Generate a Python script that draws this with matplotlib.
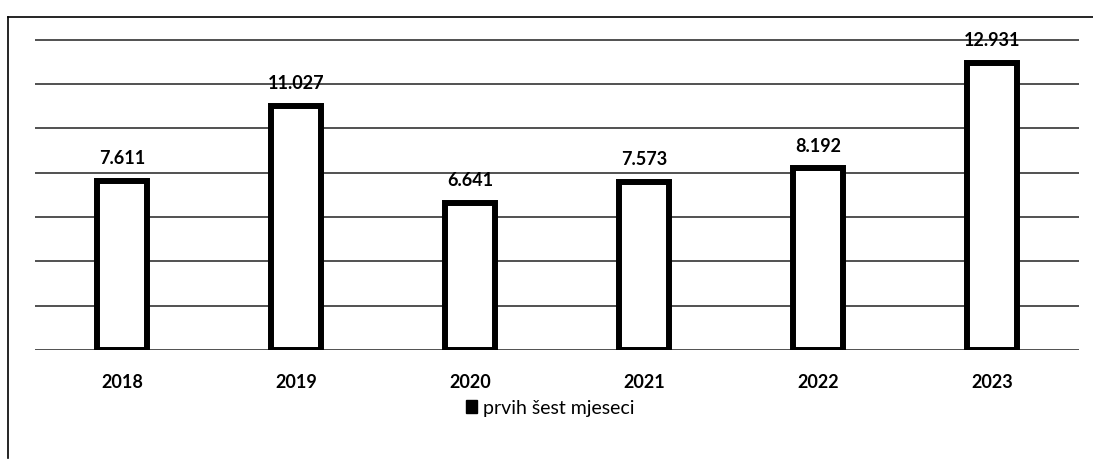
import matplotlib
matplotlib.use("Agg")
import matplotlib.pyplot as plt
from matplotlib.lines import Line2D
from matplotlib.patches import Patch

years = ["2018", "2019", "2020", "2021", "2022", "2023"]
values = [7611, 11027, 6641, 7573, 8192, 12931]
value_labels = ["7.611", "11.027", "6.641", "7.573", "8.192", "12.931"]
legend_label = "prvih šest mjeseci"

plt.rcParams['font.family'] = ['Lato', 'DejaVu Sans']

fig = plt.figure(figsize=(10.93, 4.65), dpi=100)
ax = fig.add_axes([35/1093, 115/465, (1079-35)/1093, (350-33)/465])

x = list(range(len(years)))
bars = ax.bar(x, values, width=0.29, facecolor='white', edgecolor='black',
              linewidth=4.3, zorder=3)

for xi, v, lab in zip(x, values, value_labels):
    ax.annotate(lab, (xi, v), xytext=(0, 10), textcoords='offset points',
                ha='center', va='bottom', fontsize=13, fontweight='bold', color='black')

ax.set_xlim(-0.5, 5.5)
ax.set_ylim(0, 14300)
ax.set_yticks(range(0, 14001, 2000))
ax.set_yticklabels([])
ax.tick_params(axis='y', length=0)
ax.set_xticks(x)
ax.set_xticklabels(years, fontsize=13, fontweight='bold')
ax.tick_params(axis='x', length=0, pad=17)
ax.grid(axis='y', color='#222222', linewidth=1.1, zorder=0)
ax.set_axisbelow(True)
for s in ax.spines.values():
    s.set_visible(False)

handle = Patch(facecolor='black', edgecolor='black')
fig.legend([handle], [legend_label], loc='center', bbox_to_anchor=(550/1093, 1 - 408/465),
           frameon=False, fontsize=14, handlelength=0.6, handleheight=0.6, handletextpad=0.3)

# border of the scanned chart frame
fig.add_artist(Line2D([8/1093, 8/1093], [1 - 17/465, 1 - 458/465], color='black', lw=1.2,
                      transform=fig.transFigure))
fig.add_artist(Line2D([8/1093, 1.0], [1 - 17/465, 1 - 17/465], color='black', lw=1.2,
                      transform=fig.transFigure))

fig.savefig("out.png", dpi=100, facecolor='white')
